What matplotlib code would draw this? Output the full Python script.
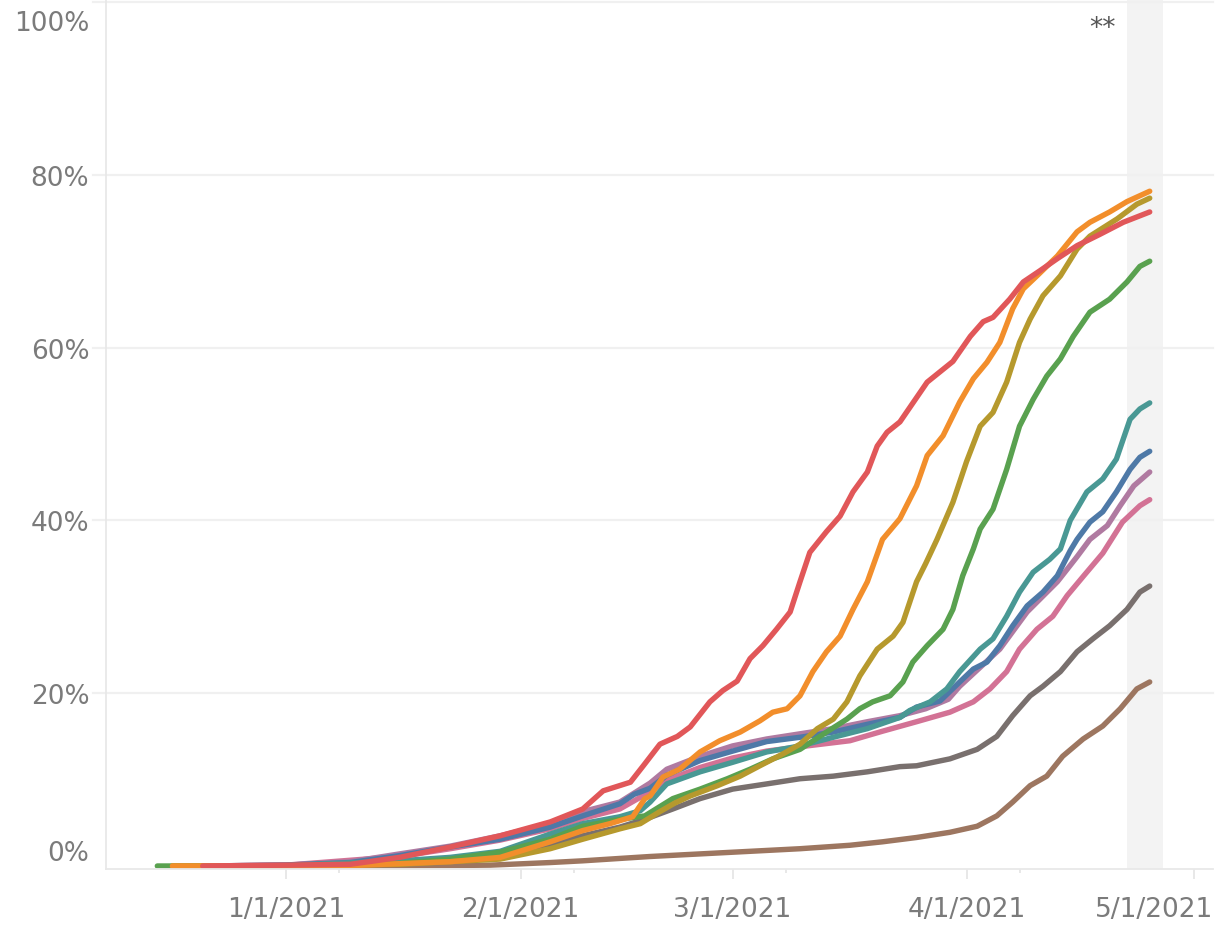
import matplotlib
matplotlib.use('Agg')
import matplotlib.pyplot as plt
import matplotlib.transforms as mtransforms
import numpy as np
import pandas as pd

# day offsets from 1/1/2021 and share of population (%)
red_days = [-11, 0, 8.5, 15, 21.7, 28.3, 34.9, 39.2, 41.9, 45.5, 47.2, 49.4, 51.7, 53.4, 56.0, 57.7, 59.6,
            61.3, 63.0, 64.8, 66.6, 67.9, 69.2, 71.4, 73.2, 74.9, 76.8, 78.1, 79.4, 81.1, 84.7, 86.4, 88.1,
            90.4, 92.1, 93.4, 95.6, 97.4, 99.6, 101.9, 104.5, 107.5, 110.6, 114.1]
red_vals = [0, 0.1, 0.2, 1.0, 2.2, 3.5, 5.1, 6.6, 8.7, 9.7, 11.6, 14.1, 15.0, 16.1, 19.0, 20.3, 21.4,
            24.0, 25.5, 27.4, 29.4, 32.9, 36.3, 38.7, 40.5, 43.3, 45.6, 48.6, 50.2, 51.4, 56.0, 57.2, 58.4,
            61.3, 63.0, 63.5, 65.6, 67.6, 68.9, 70.3, 71.8, 73.1, 74.5, 75.7]

orange_days = [-15, 0, 10, 21.7, 28.3, 34.9, 39.2, 42.8, 45.8, 47.4, 48.1, 49.8, 52.0, 54.7, 57.3, 60.0,
               62.6, 64.3, 66.2, 67.9, 69.6, 71.4, 73.2, 74.9, 76.8, 78.8, 81.1, 83.3, 84.7, 86.8, 89.0,
               90.8, 92.6, 94.3, 96.0, 97.4, 99.2, 101.9, 104.5, 106.2, 108.8, 111.1, 114.1]
orange_vals = [0, 0, 0.1, 0.5, 1.0, 2.8, 4.1, 4.9, 5.7, 7.8, 8.1, 10.3, 11.2, 13.2, 14.5, 15.5,
               16.8, 17.8, 18.2, 19.7, 22.5, 24.8, 26.6, 29.7, 32.9, 37.8, 40.2, 44.0, 47.5, 49.8, 53.7,
               56.4, 58.3, 60.6, 64.5, 66.8, 68.3, 70.6, 73.4, 74.5, 75.7, 76.9, 78.1]

olive_days = [-15, 0, 15, 28.3, 34.9, 39.2, 44.1, 46.8, 49.4, 51.4, 53.4, 57.0, 60.0, 62.6, 65.7, 67.9,
              70.2, 72.3, 74.1, 75.8, 78.1, 80.2, 81.5, 83.3, 84.5, 86.0, 88.1, 89.9, 91.7, 93.4, 95.2,
              96.9, 98.3, 100.0, 102.3, 104.5, 106.2, 109.8, 112.4, 114.1]
olive_vals = [0, 0, 0.2, 0.8, 2.0, 3.1, 4.3, 4.9, 6.3, 7.3, 8.1, 9.3, 10.4, 11.6, 13.0, 14.1,
              15.9, 17.0, 19.0, 22.0, 25.1, 26.6, 28.2, 32.9, 35.0, 37.8, 42.1, 46.8, 50.9, 52.5, 56.0,
              60.6, 63.3, 66.0, 68.3, 71.4, 72.9, 74.9, 76.6, 77.3]

green_days = [-17, 0, 15, 21.7, 28.3, 34.9, 39.2, 44.1, 47.4, 51.1, 54.7, 58.3, 61.3, 64.3, 67.9, 71.4,
              74.1, 75.8, 77.5, 79.8, 81.5, 82.8, 84.7, 86.8, 88.1, 89.4, 90.8, 91.7, 93.4, 95.2, 96.9,
              98.7, 100.5, 102.3, 104.0, 106.2, 108.8, 111.1, 112.8, 114.1]
green_vals = [0, 0, 0.3, 0.8, 1.6, 3.1, 4.6, 5.4, 5.8, 7.8, 8.9, 10.1, 11.2, 12.4, 13.5, 15.5,
              17.0, 18.2, 19.0, 19.7, 21.3, 23.6, 25.5, 27.4, 29.7, 33.6, 36.7, 39.0, 41.3, 45.9, 50.9,
              54.0, 56.7, 58.7, 61.3, 64.1, 65.6, 67.6, 69.4, 70.0]

teal_days = [-11, 0, 15, 21.7, 28.3, 34.9, 39.2, 44.1, 46.8, 48.1, 50.3, 54.7, 59.0, 63.5, 67.9, 72.3,
             76.8, 81.1, 82.4, 85.1, 87.3, 89.0, 91.7, 93.4, 95.2, 96.9, 98.7, 100.9, 102.3, 103.6, 105.8,
             107.9, 109.7, 111.5, 112.8, 114.1]
teal_vals = [0, 0.05, 0.6, 1.0, 1.7, 3.7, 4.9, 5.7, 6.4, 7.4, 9.5, 10.9, 12.0, 13.2, 13.9, 14.9,
             15.9, 17.2, 18.0, 19.0, 20.5, 22.5, 25.1, 26.3, 28.9, 31.7, 34.0, 35.5, 36.7, 40.0, 43.3,
             44.8, 47.1, 51.7, 52.9, 53.6]

blue_days = [-11, 0, 8.5, 15, 21.7, 28.3, 34.9, 39.2, 44.1, 46.0, 48.1, 50.3, 54.7, 59.0, 63.5, 67.9,
             72.3, 76.8, 81.1, 83.3, 86.4, 89.0, 90.8, 92.6, 94.3, 96.0, 97.9, 100.0, 101.9, 103.6, 104.5,
             106.2, 107.9, 109.7, 111.5, 112.8, 114.1]
blue_vals = [0, 0.1, 0.4, 1.2, 2.2, 3.1, 4.5, 5.8, 7.2, 8.3, 9.0, 10.5, 12.2, 13.3, 14.4, 14.9,
             15.5, 16.4, 17.2, 18.4, 19.1, 21.3, 22.8, 23.6, 25.5, 27.8, 30.1, 31.7, 33.6, 36.5, 37.8,
             39.8, 41.0, 43.3, 45.9, 47.3, 48.0]

purple_days = [-11, 0, 8.5, 15, 21.7, 28.3, 34.9, 39.2, 44.1, 48.1, 50.3, 54.7, 59.0, 63.5, 67.9, 72.3,
               76.8, 81.1, 84.5, 87.5, 89.0, 94.3, 97.9, 101.9, 104.5, 106.2, 108.5, 110.2, 112.0, 114.1]
purple_vals = [0, 0.1, 0.5, 1.4, 2.3, 3.5, 4.9, 6.3, 7.4, 9.6, 11.2, 12.7, 13.9, 14.7, 15.3, 15.9,
               16.7, 17.4, 18.2, 19.3, 20.8, 25.1, 29.4, 32.9, 35.8, 37.8, 39.4, 41.7, 44.0, 45.6]

pink_days = [-11, 0, 15, 21.7, 28.3, 34.9, 39.2, 44.1, 48.1, 50.3, 54.7, 59.0, 63.5, 67.9, 74.5, 78.8,
             83.3, 87.7, 90.8, 93.0, 95.2, 96.9, 99.2, 101.3, 103.2, 105.3, 107.9, 110.5, 112.8, 114.1]
pink_vals = [0, 0.1, 1.1, 2.0, 3.0, 4.3, 5.5, 6.6, 8.6, 9.9, 11.4, 12.5, 13.3, 13.8, 14.5, 15.6,
             16.7, 17.8, 19.0, 20.5, 22.5, 25.1, 27.4, 28.9, 31.3, 33.5, 36.2, 39.8, 41.7, 42.4]

gray_days = [-11, 0, 15, 28.3, 34.9, 39.2, 44.1, 47.4, 51.1, 54.7, 59.0, 63.5, 67.9, 72.3, 76.8, 81.1,
             83.3, 87.7, 91.3, 93.9, 96.0, 98.3, 100.0, 102.3, 104.5, 106.6, 108.8, 111.1, 112.8, 114.1]
gray_vals = [0, 0, 0.3, 1.2, 2.5, 3.5, 4.5, 5.4, 6.6, 7.8, 8.9, 9.5, 10.1, 10.4, 10.9, 11.5,
             11.6, 12.4, 13.5, 15.0, 17.4, 19.7, 20.8, 22.5, 24.8, 26.3, 27.8, 29.7, 31.7, 32.4]

brown_days = [-11, 15, 27, 34.9, 39.2, 48.1, 54.7, 61.3, 67.9, 74.5, 78.8, 83.3, 87.7, 91.3, 93.9, 96.0,
              98.3, 100.5, 102.6, 105.3, 107.9, 110.2, 112.4, 114.1]
brown_vals = [0, 0, 0.1, 0.4, 0.6, 1.1, 1.4, 1.7, 2.0, 2.4, 2.8, 3.3, 3.9, 4.6, 5.8, 7.4,
              9.3, 10.4, 12.7, 14.7, 16.2, 18.2, 20.5, 21.3]

tick_labels = ['1/1/2021', '2/1/2021', '3/1/2021', '4/1/2021', '5/1/2021']

base = pd.Timestamp('2021-01-01')


def to_dates(days):
    return base + pd.to_timedelta(np.array(days), unit='D')


series = [
    (brown_days, brown_vals, '#9D7660'),
    (gray_days, gray_vals, '#79706E'),
    (pink_days, pink_vals, '#D37295'),
    (purple_days, purple_vals, '#B07AA1'),
    (blue_days, blue_vals, '#4E79A7'),
    (teal_days, teal_vals, '#499894'),
    (green_days, green_vals, '#59A14F'),
    (olive_days, olive_vals, '#B6992D'),
    (orange_days, orange_vals, '#F28E2B'),
    (red_days, red_vals, '#E15759'),
]

plt.rcParams['font.family'] = ['DejaVu Sans']
fig = plt.figure(figsize=(12.3, 9.29), dpi=100)
ax = fig.add_axes([106 / 1230, 59 / 929, 1107 / 1230, 870 / 929])

grey_txt = '#7b7b7b'
grid_c = '#f0f0f0'

# highlighted band near the end
ax.axvspan(to_dates([111.1])[0], to_dates([115.9])[0], color='#f3f3f3', zorder=0, lw=0)

for y in [0.2, 0.4, 0.6, 0.8, 1.0]:
    ax.axhline(y, xmin=-0.012, xmax=1, color=grid_c, lw=1.6, zorder=0.5, clip_on=False)

for days, vals, col in series:
    ax.plot(to_dates(days), np.array(vals) / 100, color=col, lw=3.9,
            solid_capstyle='round', solid_joinstyle='round', zorder=2)

ax.set_xlim(to_dates([-23.78])[0], to_dates([122.46])[0])
ax.set_ylim(-3 / 864, 1 + 3 / 864)

# x axis
major = pd.to_datetime(['2021-01-01', '2021-02-01', '2021-03-01', '2021-04-01', '2021-05-01'])
minor = pd.to_datetime(['2021-01-08', '2021-02-08', '2021-03-08', '2021-04-08'])
ax.set_xticks(major)
ax.set_xticklabels(tick_labels[:-1] + [''])
ax.set_xticks(minor, minor=True)
ax.tick_params(axis='x', which='major', length=7.5, width=1.2, color='#e4e4e4',
               labelsize=19, labelcolor=grey_txt, pad=12)
ax.tick_params(axis='x', which='minor', length=3, width=1.2, color='#e4e4e4')
trans = mtransforms.blended_transform_factory(ax.transAxes, ax.transAxes)
ax.text(1.0, -0.031, tick_labels[-1], transform=trans, ha='right', va='top',
        fontsize=19, color=grey_txt)

# y axis
ax.set_yticks([0, 0.2, 0.4, 0.6, 0.8, 1.0])
ax.set_yticklabels(['0%', '20%', '40%', '60%', '80%', '100%'])
ax.tick_params(axis='y', length=0, labelsize=19, labelcolor=grey_txt, pad=12)
for lbl in ax.get_yticklabels():
    if lbl.get_text() == '100%':
        lbl.set_va('top')
        lbl.set_transform(lbl.get_transform() + mtransforms.ScaledTranslation(0, -0.08, fig.dpi_scale_trans))
    elif lbl.get_text() == '0%':
        lbl.set_va('bottom')

for s in ['top', 'right']:
    ax.spines[s].set_visible(False)
ax.spines['left'].set_color('#e8e8e8')
ax.spines['bottom'].set_color('#e8e8e8')
ax.spines['left'].set_linewidth(1.3)
ax.spines['bottom'].set_linewidth(1.3)

ax.text(to_dates([107.9])[0], 0.985, '**', ha='center', va='top', fontsize=19, color='#555555')

plt.savefig('out.png', dpi=100)
